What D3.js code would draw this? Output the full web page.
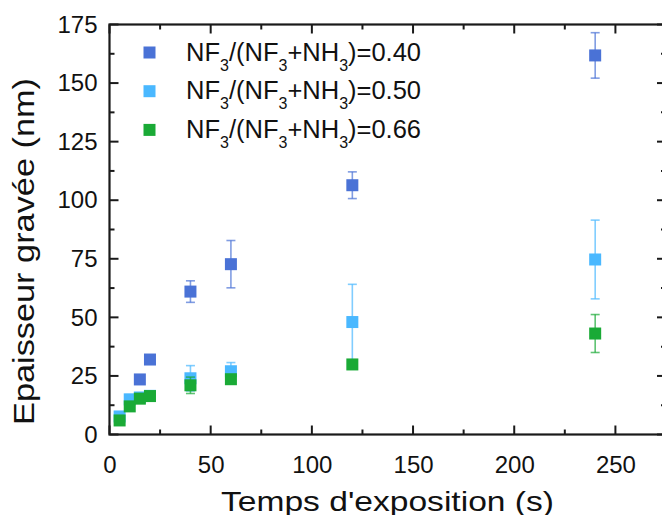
<!DOCTYPE html>
<html>
<head>
<meta charset="utf-8">
<script src="https://cdn.jsdelivr.net/npm/d3@7"></script>
<style>
  html, body { margin: 0; padding: 0; background: #fff; }
  svg { display: block; font-family: Arial, "Liberation Sans", sans-serif; }
</style>
</head>
<body>
<svg id="chart" width="662" height="515"></svg>
<script>
// ---- data ----
const xTicks = [0, 50, 100, 150, 200, 250];
const yTicks = [0, 25, 50, 75, 100, 125, 150, 175];

const seriesLabels = ["0.40", "0.50", "0.66"];
const seriesColors = ["#4a72d6", "#4ab8ff", "#1aaa36"];

const timesA = [15, 20, 40, 60, 120, 240];
const valuesA = [23.5, 32, 61, 72.7, 106.4, 161.8];
const errA = [0, 0, 4.6, 10.1, 5.7, 9.7];

const timesB = [5, 10, 15, 20, 40, 60, 120, 240];
const valuesB = [7.7, 15, 15.8, 16.5, 24, 27, 48, 74.7];
const errB = [1.5, 2, 1.5, 1.5, 5.4, 3.7, 16.1, 16.8];

const timesC = [5, 10, 15, 20, 40, 60, 120, 240];
const valuesC = [6, 12, 15.3, 16.4, 21, 23.6, 29.9, 43.1];
const errC = [1.5, 1.2, 1.2, 1.2, 3.5, 1.2, 1, 8.1];

const series = [
  { t: timesA, v: valuesA, e: errA },
  { t: timesB, v: valuesB, e: errB },
  { t: timesC, v: valuesC, e: errC }
];

(function () {
const svg = d3.select("#chart");
const x = d3.scaleLinear().domain([0, 275]).range([109.5, 666]);
const y = d3.scaleLinear().domain([0, 175]).range([434.5, 24.5]);
const pLeft = x.range()[0], pRight = x.range()[1];
const pTop = y.range()[1], pBottom = y.range()[0];

const axisColor = "#1a1a1a";

const xMinor = d3.range(25, 275, 50);
const yMinor = d3.range(12.5, 175, 25);

function drawXTicks(vals, len) {
  vals.forEach(v => {
    svg.append("line").attr("x1", x(v)).attr("x2", x(v))
      .attr("y1", pBottom).attr("y2", pBottom - len)
      .attr("stroke", axisColor).attr("stroke-width", 2);
    svg.append("line").attr("x1", x(v)).attr("x2", x(v))
      .attr("y1", pTop).attr("y2", pTop + len)
      .attr("stroke", axisColor).attr("stroke-width", 2);
  });
}
drawXTicks(xTicks, 9);
drawXTicks(xMinor, 5);

function drawYTicks(vals, len) {
  vals.forEach(v => {
    svg.append("line").attr("x1", pLeft).attr("x2", pLeft + len)
      .attr("y1", y(v)).attr("y2", y(v))
      .attr("stroke", axisColor).attr("stroke-width", 2);
    svg.append("line").attr("x1", pRight).attr("x2", pRight - len)
      .attr("y1", y(v)).attr("y2", y(v))
      .attr("stroke", axisColor).attr("stroke-width", 2);
  });
}
drawYTicks(yTicks, 9);
drawYTicks(yMinor, 5);

svg.append("rect").attr("x", pLeft).attr("y", pTop)
  .attr("width", pRight - pLeft).attr("height", pBottom - pTop)
  .attr("fill", "none").attr("stroke", axisColor).attr("stroke-width", 2.2);

const gx = svg.append("g").attr("transform", `translate(0,${pBottom})`)
  .call(d3.axisBottom(x).tickValues(xTicks).tickSize(0).tickPadding(21));
gx.select(".domain").remove();
gx.selectAll("text").attr("font-size", 24).attr("fill", "#111")
  .attr("font-family", "Arial, 'Liberation Sans', sans-serif");

const gy = svg.append("g").attr("transform", `translate(${pLeft},0)`)
  .call(d3.axisLeft(y).tickValues(yTicks).tickSize(0).tickPadding(12));
gy.select(".domain").remove();
gy.selectAll("text").attr("font-size", 24).attr("fill", "#111")
  .attr("font-family", "Arial, 'Liberation Sans', sans-serif");

svg.append("text").attr("x", 387.5).attr("y", 510.5)
  .attr("text-anchor", "middle").attr("font-size", 28.5).attr("fill", "#111")
  .attr("textLength", 333).attr("lengthAdjust", "spacingAndGlyphs")
  .text("Temps d'exposition (s)");
svg.append("text")
  .attr("transform", `translate(33.5,251.5) rotate(-90)`)
  .attr("text-anchor", "middle").attr("font-size", 29).attr("fill", "#111")
  .attr("textLength", 347).attr("lengthAdjust", "spacingAndGlyphs")
  .text("Epaisseur gravée (nm)");

const plot = svg.append("g");
const sq = 12;
series.forEach((s, i) => {
  const col = seriesColors[i];
  const g = plot.append("g");
  s.t.forEach((t, j) => {
    const e = s.e[j];
    if (e > 0) {
      const cx = x(t);
      const y1 = y(s.v[j] + e), y2 = y(s.v[j] - e);
      g.append("line").attr("x1", cx).attr("x2", cx).attr("y1", y1).attr("y2", y2)
        .attr("stroke", col).attr("stroke-opacity", 0.7).attr("stroke-width", 1.6);
      [y1, y2].forEach(yy => {
        g.append("line").attr("x1", cx - 4.5).attr("x2", cx + 4.5).attr("y1", yy).attr("y2", yy)
          .attr("stroke", col).attr("stroke-opacity", 0.7).attr("stroke-width", 1.6);
      });
    }
  });
  g.selectAll("rect.pt").data(s.t.map((t, j) => [t, s.v[j]]))
    .enter().append("rect")
    .attr("x", d => x(d[0]) - sq / 2).attr("y", d => y(d[1]) - sq / 2)
    .attr("width", sq).attr("height", sq).attr("fill", col);
});

const legRows = [52.5, 91.2, 129.9];
seriesLabels.forEach((lab, i) => {
  const ly = legRows[i];
  svg.append("rect").attr("x", 143.5).attr("y", ly - 6).attr("width", 12).attr("height", 12)
    .attr("fill", seriesColors[i]);
  const t = svg.append("text").attr("x", 186).attr("y", ly + 8.2)
    .attr("font-size", 25.5).attr("fill", "#111");
  t.append("tspan").text("NF");
  t.append("tspan").attr("font-size", 16).attr("dy", 10).text("3");
  t.append("tspan").attr("dy", -10).text("/(NF");
  t.append("tspan").attr("font-size", 16).attr("dy", 10).text("3");
  t.append("tspan").attr("dy", -10).text("+NH");
  t.append("tspan").attr("font-size", 16).attr("dy", 10).text("3");
  t.append("tspan").attr("dy", -10).text(")=" + lab);
});
})();
</script>
</body>
</html>
